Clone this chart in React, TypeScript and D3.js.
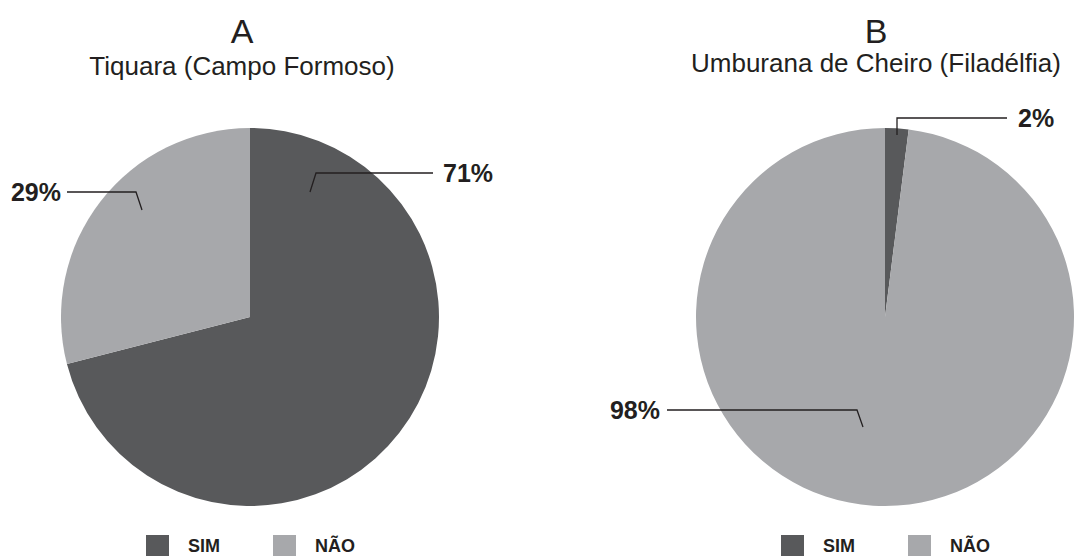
import { useEffect, useRef } from 'react'
import * as d3 from 'd3'

// ── Data ────────────────────────────────────────────────────────
const categories = ['SIM', 'NÃO']
const panelLetters = ['A', 'B']
const panelTitles = ['Tiquara (Campo Formoso)', 'Umburana de Cheiro (Filadélfia)']
const tiquaraValues = [71, 29]
const umburanaValues = [2, 98]
const seriesValues = [tiquaraValues, umburanaValues]

const colors = ['#58595b', '#a7a8ab']
const ink = '#231f20'

// leader layout per slice, offsets relative to the pie centre:
// anchor inside slice, elbow, end of horizontal line, text x, side
const labelLayouts = [
  [
    { anchor: [60, -125], elbow: [66, -144], lineEnd: 183, textX: 193, side: 'start' },
    { anchor: [-108, -107], elbow: [-114, -125], lineEnd: -183, textX: -189, side: 'end' },
  ],
  [
    { anchor: [12, -182], elbow: [12, -199], lineEnd: 122, textX: 133, side: 'start' },
    { anchor: [-22, 110], elbow: [-28, 93], lineEnd: -218, textX: -225, side: 'end' },
  ],
]

export default function App() {
  const svgRef = useRef<SVGSVGElement>(null)

  useEffect(() => {
    const svg = svgRef.current
    if (!svg) return
    const width = 1078
    const height = 556
    d3.select(svg).selectAll('*').remove()
    const root = d3.select(svg).attr('width', width).attr('height', height)

    const radius = 189
    const centers = [
      { x: 250, y: 317, titleX: 242 },
      { x: 885, y: 317, titleX: 876 },
    ]
    const font = "'Liberation Sans', Arial, sans-serif"

    const pie = d3.pie<number>().sort(null).value((d) => d)
    const arc = d3.arc<d3.PieArcDatum<number>>().innerRadius(0).outerRadius(radius)

    seriesValues.forEach((values, i) => {
      const c = centers[i]!

      // ── Titles ──────────────────────────────────────────────
      root
        .append('text')
        .attr('x', c.titleX)
        .attr('y', 43)
        .attr('text-anchor', 'middle')
        .attr('fill', ink)
        .attr('font-family', font)
        .attr('font-size', '34px')
        .text(panelLetters[i]!)

      root
        .append('text')
        .attr('x', c.titleX)
        .attr('y', i === 0 ? 75 : 72)
        .attr('text-anchor', 'middle')
        .attr('fill', ink)
        .attr('font-family', font)
        .attr('font-size', '26px')
        .text(panelTitles[i]!)

      // ── Slices ──────────────────────────────────────────────
      const g = root.append('g').attr('transform', `translate(${c.x},${c.y})`)
      g.selectAll('path')
        .data(pie(values))
        .join('path')
        .attr('d', (d) => arc(d) ?? '')
        .attr('fill', (_, j) => colors[j]!)

      // ── Leader labels ──────────────────────────────────────
      values.forEach((v, j) => {
        const L = labelLayouts[i]![j]!
        const pts: [number, number][] = [
          [L.anchor[0]!, L.anchor[1]!],
          [L.elbow[0]!, L.elbow[1]!],
          [L.lineEnd, L.elbow[1]!],
        ]
        g.append('path')
          .attr('d', d3.line()(pts) ?? '')
          .attr('fill', 'none')
          .attr('stroke', ink)
          .attr('stroke-width', 1.3)

        g.append('text')
          .attr('x', L.textX)
          .attr('y', L.elbow[1]! + 9)
          .attr('text-anchor', L.side)
          .attr('fill', ink)
          .attr('font-family', font)
          .attr('font-weight', 'bold')
          .attr('font-size', '25px')
          .text(`${v}%`)
      })

      // ── Legend ──────────────────────────────────────────────
      const legendX = c.x - 104
      categories.forEach((cat, j) => {
        const lx = legendX + j * 127
        root
          .append('rect')
          .attr('x', lx)
          .attr('y', 535)
          .attr('width', 23)
          .attr('height', 23)
          .attr('fill', colors[j]!)
        root
          .append('text')
          .attr('x', lx + 42)
          .attr('y', 552)
          .attr('fill', ink)
          .attr('font-family', font)
          .attr('font-weight', 'bold')
          .attr('font-size', '18px')
          .text(cat)
      })
    })
  }, [])

  return (
    <div style={{ position: 'absolute', left: 0, top: 0, width: 1078, height: 556, background: '#fff' }}>
      <svg ref={svgRef} style={{ display: 'block' }} />
    </div>
  )
}
